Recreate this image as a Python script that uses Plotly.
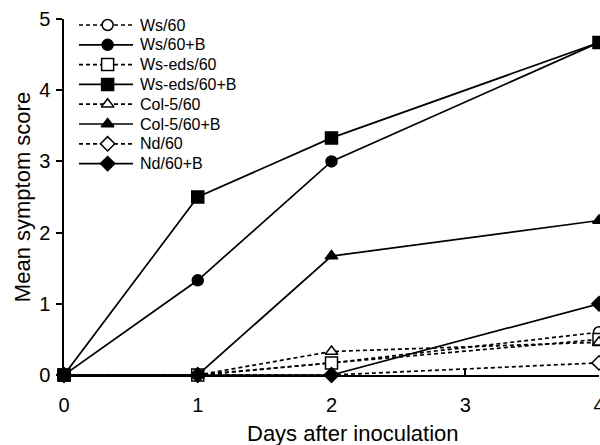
import plotly.graph_objects as go

days = [0, 1, 2, 4]
ws60 = [0, 0, 0.17, 0.6]
ws60b = [0, 1.33, 3.0, 4.67]
wseds60 = [0, 0, 0.17, 0.5]
wseds60b = [0, 2.5, 3.33, 4.67]
col60 = [0, 0, 0.33, 0.46]
col60b = [0, 0, 1.67, 2.17]
nd60 = [0, 0, 0, 0.17]
nd60b = [0, 0, 0, 1.0]

series = [
    ("Ws/60", ws60, "circle-open", "dash"),
    ("Ws/60+B", ws60b, "circle", "solid"),
    ("Ws-eds/60", wseds60, "square-open", "dash"),
    ("Ws-eds/60+B", wseds60b, "square", "solid"),
    ("Col-5/60", col60, "triangle-up-open", "dash"),
    ("Col-5/60+B", col60b, "triangle-up", "solid"),
    ("Nd/60", nd60, "diamond-open", "dash"),
    ("Nd/60+B", nd60b, "diamond", "solid"),
]

FONT = "Liberation Sans, Arial, sans-serif"
W, H = 600, 445
ML, MR, MT, MB = 64, 1, 19, 70
PW, PH = W - ML - MR, H - MT - MB


def px_x(p):
    return (p - ML) / PW


def px_y(p):
    return (H - MB - p) / PH


def marker_style(sym):
    open_ = sym.endswith("-open")
    base = sym.replace("-open", "")
    size = {"square": 12, "circle": 11, "triangle-up": 11, "diamond": 11}[base]
    return dict(symbol=base, size=size, color="white" if open_ else "black",
                line=dict(color="black", width=1.5))


def line_style(dash):
    return dict(color="black", width=1.7, dash="4px,3px" if dash == "dash" else "solid")


fig = go.Figure()
for name, vals, sym, dash in series:
    fig.add_trace(go.Scatter(
        x=days, y=vals, name=name, mode="lines+markers",
        line=line_style(dash), marker=marker_style(sym),
        cliponaxis=False, showlegend=False,
    ))

# custom legend drawn on its own small axes
row0, rowgap = 25, 19.8
leg_top, leg_bot = MT, 176
annotations = []
for i, (name, vals, sym, dash) in enumerate(series):
    fig.add_trace(go.Scatter(x=[0, 1], y=[i, i], mode="lines", line=line_style(dash),
                             xaxis="x2", yaxis="y2", showlegend=False, hoverinfo="skip",
                             cliponaxis=False))
    fig.add_trace(go.Scatter(x=[0.53], y=[i], mode="markers", marker=marker_style(sym),
                             xaxis="x2", yaxis="y2", showlegend=False, hoverinfo="skip",
                             cliponaxis=False))
    annotations.append(dict(text=name, x=1, y=i, xref="x2", yref="y2", xshift=5,
                            xanchor="left", yanchor="middle", showarrow=False,
                            font=dict(size=16, family=FONT)))

annotations.append(dict(text="Days after inoculation", x=px_x(353), y=px_y(433),
                        xref="paper", yref="paper", showarrow=False,
                        xanchor="center", yanchor="middle",
                        font=dict(size=22, family=FONT)))

fig.update_layout(
    width=W, height=H,
    margin=dict(l=ML, r=MR, t=MT, b=MB, autoexpand=False),
    paper_bgcolor="white", plot_bgcolor="white",
    font=dict(family=FONT, color="black"),
    showlegend=False,
    annotations=annotations,
    xaxis=dict(range=[0, 4], tickvals=[0, 1, 2, 3, 4],
               showgrid=False, zeroline=False, automargin=False,
               showline=True, linecolor="black", linewidth=1.5,
               ticks="inside", ticklen=6, tickwidth=1.5, tickcolor="black",
               tickfont=dict(size=20, color="black"), ticklabelstandoff=11,
               ticklabeloverflow="allow"),
    yaxis=dict(range=[0, 5], tickvals=[0, 1, 2, 3, 4, 5], showgrid=False, zeroline=False,
               automargin=False,
               showline=True, linecolor="black", linewidth=1.5,
               ticks="outside", ticklen=6, tickwidth=1.5, tickcolor="black",
               tickfont=dict(size=20, color="black"), ticklabelstandoff=2,
               ticklabeloverflow="allow",
               title=dict(text="Mean symptom score", font=dict(size=22), standoff=2)),
    xaxis2=dict(domain=[px_x(79), px_x(133)], range=[0, 1], visible=False,
                anchor="y2", fixedrange=True),
    yaxis2=dict(domain=[px_y(leg_bot), 1.0],
                range=[(leg_bot - row0) / rowgap, -(row0 - leg_top) / rowgap],
                visible=False, anchor="x2", fixedrange=True),
)

fig.write_html("out.html", config={"displayModeBar": False},
               post_script="document.body.style.margin='0';document.body.style.overflow='hidden';")
